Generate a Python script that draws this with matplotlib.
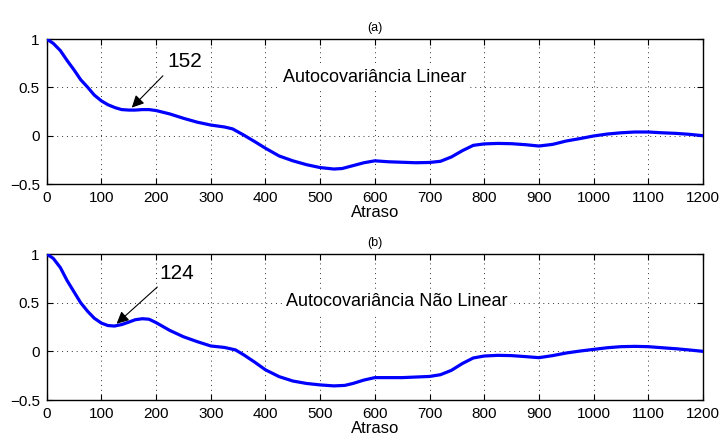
import matplotlib
matplotlib.use("Agg")
import matplotlib.pyplot as plt

plt.rcParams['font.family'] = ['Liberation Sans', 'DejaVu Sans']

# (a) autocovariancia linear
lag_a = [0, 12, 25, 37, 50, 62, 75, 87, 100, 112, 125, 137, 150, 162, 175, 187, 200, 225, 250,
         275, 300, 325, 340, 360, 380, 400, 425, 450, 475, 500, 525, 540, 560, 580, 600, 625,
         650, 675, 700, 720, 740, 760, 780, 800, 825, 850, 875, 900, 925, 950, 975, 1000, 1025,
         1050, 1075, 1100, 1125, 1150, 1175, 1200]
acov_a = [1.0, 0.955, 0.88, 0.78, 0.68, 0.58, 0.50, 0.42, 0.36, 0.32, 0.29, 0.27, 0.265, 0.265,
          0.27, 0.27, 0.26, 0.225, 0.18, 0.14, 0.11, 0.09, 0.07, 0.007, -0.06, -0.13, -0.21,
          -0.26, -0.30, -0.33, -0.345, -0.34, -0.31, -0.28, -0.26, -0.27, -0.275, -0.28, -0.277,
          -0.265, -0.22, -0.155, -0.10, -0.085, -0.08, -0.083, -0.093, -0.107, -0.09, -0.055,
          -0.03, -0.003, 0.017, 0.03, 0.038, 0.038, 0.03, 0.024, 0.014, 0.0]

# (b) autocovariancia nao linear
lag_b = [0, 12, 25, 37, 50, 62, 75, 87, 100, 112, 124, 137, 150, 162, 175, 187, 200, 225, 250,
         275, 300, 325, 345, 360, 380, 400, 425, 450, 475, 500, 525, 545, 560, 580, 600, 650,
         700, 720, 740, 760, 780, 800, 825, 850, 875, 900, 925, 950, 975, 1000, 1025, 1050,
         1075, 1100, 1125, 1150, 1175, 1200]
acov_b = [1.0, 0.955, 0.86, 0.73, 0.61, 0.50, 0.41, 0.34, 0.29, 0.265, 0.26, 0.275, 0.30, 0.325,
          0.335, 0.33, 0.295, 0.215, 0.15, 0.10, 0.055, 0.04, 0.015, -0.035, -0.11, -0.19, -0.26,
          -0.305, -0.33, -0.345, -0.355, -0.35, -0.33, -0.295, -0.27, -0.27, -0.258, -0.24,
          -0.195, -0.125, -0.068, -0.048, -0.041, -0.044, -0.054, -0.065, -0.044, -0.017, 0.003,
          0.02, 0.037, 0.048, 0.051, 0.048, 0.037, 0.027, 0.014, 0.0]

panels = [
    ("(a)", lag_a, acov_a, "Autocovariância Linear", (600, 0.60), "152", (152, 0.27), (216, 0.64), (253, 0.77)),
    ("(b)", lag_b, acov_b, "Autocovariância Não Linear", (640, 0.51), "124", (124, 0.265), (206, 0.68), (238, 0.80)),
]

xticks = list(range(0, 1201, 100))
yticks = [-0.5, 0, 0.5, 1]
ytick_labels = ["\u22120.5", "0", "0.5", "1"]

fig = plt.figure(figsize=(7.22, 4.40), dpi=100)
positions = [[0.0647, 0.5818, 0.909, 0.3295], [0.0647, 0.0909, 0.909, 0.3318]]

for pos, (title, lag, acov, label, label_xy, num, head, tail, num_xy) in zip(positions, panels):
    ax = fig.add_axes(pos)
    ax.plot(lag, acov, color='#0000ff', lw=2.3, zorder=3, solid_joinstyle='round')
    ax.set_xlim(0, 1200)
    ax.set_ylim(-0.5, 1)
    ax.set_xticks(xticks)
    ax.set_yticks(yticks)
    ax.set_yticklabels(ytick_labels)
    ax.tick_params(direction='in', top=True, right=True, labelsize=11, length=4, pad=5)
    ax.grid(True, linestyle=(0, (1, 4)), color='0.2', lw=0.7)
    for s in ax.spines.values():
        s.set_linewidth(1.0)
    ax.set_title(title, fontsize=9, pad=6)
    ax.set_xlabel("Atraso", fontsize=12, labelpad=0)

    ax.text(label_xy[0], label_xy[1], label, fontsize=13, ha='center', va='center',
            bbox=dict(facecolor='white', edgecolor='none', pad=2), zorder=4)
    ax.annotate("", xy=head, xytext=tail,
                arrowprops=dict(arrowstyle='-|>', color='k', lw=0.8, mutation_scale=18),
                zorder=5)
    ax.text(num_xy[0], num_xy[1], num, fontsize=15, ha='center', va='center', zorder=5)

fig.savefig("out.png", dpi=100)
